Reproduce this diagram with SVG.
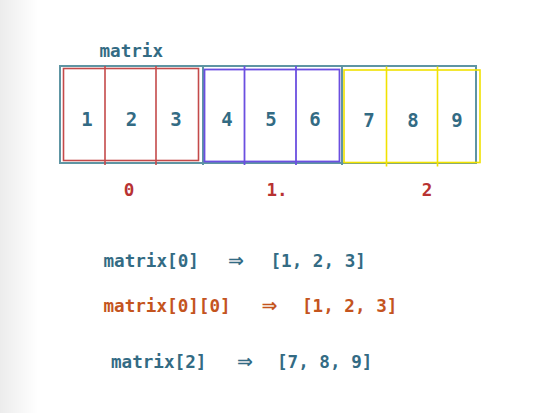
<svg xmlns="http://www.w3.org/2000/svg" width="547" height="413" viewBox="0 0 547 413">
<defs>
<linearGradient id="bg" x1="0" y1="0" x2="1" y2="0">
<stop offset="0" stop-color="#ececec"/>
<stop offset="1" stop-color="#ffffff"/>
</linearGradient>
<style>
.t{font-family:"DejaVu Sans Mono","Liberation Mono",monospace;font-weight:bold;font-size:17.6px}
.teal{fill:#336b84}
.org{fill:#c4541e}
.red{fill:#b83232}
.num{font-family:"DejaVu Sans Mono","Liberation Mono",monospace;font-weight:bold;font-size:19px;fill:#336b84;text-anchor:middle}
.arr{font-family:"DejaVu Sans",sans-serif;font-weight:bold;font-size:19px;text-anchor:middle}
.outer{fill:none;stroke:#5e95a3;stroke-width:2}
.r{fill:none;stroke:#c44a4a;stroke-width:1.6}
.b{fill:none;stroke:#6b4fe0;stroke-width:1.8}
.y{fill:none;stroke:#f1e200;stroke-width:1.6}
</style>
</defs>
<rect width="547" height="413" fill="#ffffff"/>
<rect width="38" height="413" fill="url(#bg)"/>

<g id="array">
<rect class="outer" x="60" y="66" width="416" height="97"/>
<line class="outer" x1="203" y1="66" x2="203" y2="165"/>
<line class="outer" x1="342" y1="66" x2="342" y2="165"/>
</g>

<g id="row0">
<rect class="r" x="63.5" y="68.5" width="135" height="92"/>
<line class="r" x1="105" y1="66" x2="105" y2="165"/>
<line class="r" x1="156" y1="66" x2="156" y2="165"/>
<text class="num" x="87" y="126">1</text>
<text class="num" x="131.5" y="126">2</text>
<text class="num" x="176" y="126">3</text>
</g>

<g id="row1">
<rect class="b" x="204.5" y="69.5" width="135" height="92"/>
<line class="b" x1="244.5" y1="66" x2="244.5" y2="165"/>
<line class="b" x1="296" y1="66" x2="296" y2="165"/>
<text class="num" x="227" y="126">4</text>
<text class="num" x="271" y="126">5</text>
<text class="num" x="315" y="126">6</text>
</g>

<g id="row2">
<rect class="y" x="344" y="70" width="136" height="92.5"/>
<line class="y" x1="386.5" y1="66.5" x2="386.5" y2="166.5"/>
<line class="y" x1="437.5" y1="66.5" x2="437.5" y2="166.5"/>
<text class="num" x="369" y="126.5">7</text>
<text class="num" x="413" y="126.5">8</text>
<text class="num" x="457" y="126.5">9</text>
</g>

<g id="labels">
<text class="t teal" x="99.5" y="57">matrix</text>
<text class="t red" x="129" y="196" text-anchor="middle">0</text>
<text class="t red" x="277" y="196" text-anchor="middle">1.</text>
<text class="t red" x="427" y="196" text-anchor="middle">2</text>
</g>

<g id="expr">
<text class="t teal" x="103.5" y="267">matrix[0]</text>
<text class="arr teal" x="236" y="267">⇒</text>
<text class="t teal" x="270.5" y="267">[1, 2, 3]</text>

<text class="t org" x="103.5" y="311.5">matrix[0][0]</text>
<text class="arr org" x="269.5" y="311.5">⇒</text>
<text class="t org" x="302" y="311.5">[1, 2, 3]</text>

<text class="t teal" x="111" y="368">matrix[2]</text>
<text class="arr teal" x="245" y="368">⇒</text>
<text class="t teal" x="277" y="368">[7, 8, 9]</text>
</g>
</svg>
